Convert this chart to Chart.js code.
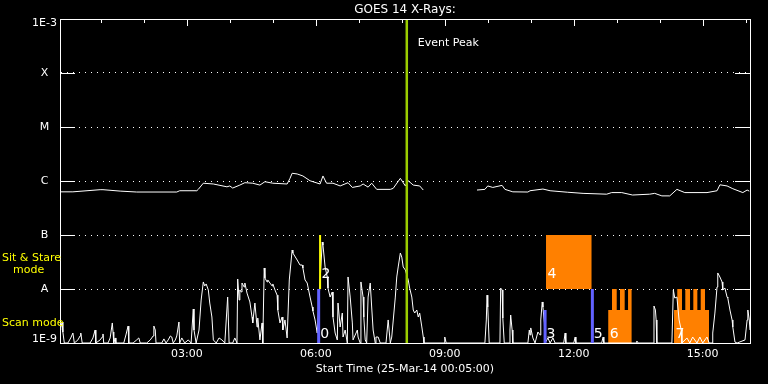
<!DOCTYPE html>
<html><head><meta charset="utf-8">
<style>html,body{margin:0;padding:0;background:#000;overflow:hidden}</style>
<script src="https://cdn.jsdelivr.net/npm/chart.js@4.4.1/dist/chart.umd.min.js"></script>
</head><body>
<canvas id="c" width="768" height="384"></canvas>
<script>
// ---- axis definitions ----
const yLevels = [1e-9, 1e-8, 1e-7, 1e-6, 1e-5, 1e-4, 1e-3];
const yLabels = ['1E-9', 'A', 'B', 'C', 'M', 'X', '1E-3'];
const xTickMinutes = [180, 360, 540, 720, 900];
const xMinMinute = 3, xMaxMinute = 966;

// ---- GOES 14 X-ray flux (minutes after 00:00, W/m^2) ----
const goesTime = [3,21,59,63,87,110,166,170,194,196,203,217,236,240,244,254,261,272,282,289,300,320,324,327,334,342,352,366,370,375,384,394,405,411,422,426,433,438,445,464,468,478,485,489,496,505,510,548,585,596,600,607,620,624,635,656,659,677,687,711,733,766,773,787,802,826,833,843,854,864,875,906,920,924,934,942,956,962,965];
const goesFlux = [6.3e-7,6.3e-7,6.9e-7,6.9e-7,6.5e-7,6.25e-7,6.25e-7,6.6e-7,6.6e-7,7.0e-7,
9.1e-7,8.8e-7,7.8e-7,8.1e-7,7.4e-7,8.4e-7,9.3e-7,9.1e-7,8.4e-7,9.7e-7,
9.1e-7,8.8e-7,1.12e-6,1.39e-6,1.35e-6,1.24e-6,1.01e-6,8.8e-7,1.24e-6,9.1e-7,
9.1e-7,8.1e-7,9.3e-7,7.6e-7,8.1e-7,8.8e-7,7.7e-7,9.1e-7,7.0e-7,7.0e-7,
7.3e-7,1.12e-6,8.1e-7,1.01e-6,8.4e-7,8.1e-7,6.8e-7,null,
6.8e-7,7.0e-7,8.1e-7,7.6e-7,8.3e-7,7.0e-7,6.3e-7,6.25e-7,6.6e-7,7.1e-7,
6.6e-7,6.2e-7,5.9e-7,5.7e-7,6.1e-7,6.1e-7,5.5e-7,5.7e-7,5.9e-7,5.3e-7,
5.3e-7,7.0e-7,6.1e-7,6.1e-7,6.6e-7,8.5e-7,8.1e-7,7.2e-7,6.1e-7,6.8e-7,6.5e-7];

// ---- lower (scan) trace ----
const scanTime = [3,4,6,7,9,14,18,21,23,28,31,32,34,45,49,52,53,59,62,63,64,70,73,76,77,78,80,81,87,92,95,98,99,105,110,113,115,124,129,133,134,136,137,145,148,151,154,157,159,161,164,166,169,170,173,177,182,186,189,190,193,197,200,203,205,207,210,212,215,217,221,225,229,233,237,239,244,247,250,251,253,254,256,257,260,261,264,268,271,272,275,278,279,282,285,286,288,289,292,293,296,299,300,303,306,307,310,313,314,317,320,323,327,328,334,338,341,342,345,348,352,355,356,359,362,369,370,373,376,377,380,383,384,387,390,391,394,397,398,401,404,405,408,411,412,418,419,422,423,426,427,429,431,433,436,438,440,443,444,447,450,458,461,464,466,471,473,475,478,480,482,485,489,491,494,496,498,501,503,505,508,510,511,539,540,542,596,598,599,600,602,617,618,620,621,623,630,631,632,634,635,656,658,659,660,663,666,670,673,674,676,677,679,680,684,687,691,694,706,708,709,720,722,723,759,761,762,807,808,810,831,832,834,835,836,857,859,861,864,867,870,871,878,882,886,892,896,900,906,909,913,914,917,920,921,924,927,928,931,934,935,938,941,942,945,948,959,962,963,965,966];
const scanFlux = [1.74e-9,1.9e-9,2.45e-9,1.6e-9,1e-9,1e-9,1.24e-9,1.53e-9,1e-9,1.14e-9,1.35e-9,1.53e-9,1e-9,1e-9,1.24e-9,1.74e-9,1e-9,1.14e-9,1.29e-9,1.47e-9,1e-9,
1e-9,1.24e-9,2.35e-9,1.6e-9,1e-9,1.24e-9,1e-9,1e-9,1e-9,1.41e-9,2.06e-9,1e-9,1e-9,1.14e-9,1.24e-9,1e-9,1e-9,1.14e-9,1.35e-9,2.06e-9,1.74e-9,1e-9,
1e-9,1.19e-9,1e-9,1.14e-9,1.35e-9,1.29e-9,1e-9,1.14e-9,1.35e-9,2.45e-9,1e-9,1.24e-9,1e-9,1.14e-9,1e-9,4.26e-9,1.74e-9,1e-9,
1.74e-9,6.25e-9,1.35e-8,1.14e-8,1.24e-8,9.6e-9,5.5e-9,3.03e-9,1.14e-9,1e-9,1.24e-9,1.14e-9,1e-9,7.1e-9,1e-9,1e-9,1.24e-9,1e-9,
1.53e-8,6.25e-9,9.6e-9,8.8e-9,1.29e-8,1.09e-8,1.29e-8,8.4e-9,5.75e-9,3.03e-9,2.35e-9,5.5e-9,1.98e-9,2.9e-9,1.14e-9,2.35e-9,1e-9,
2.45e-8,1.6e-8,1.35e-8,1.47e-8,1.29e-8,1.14e-8,1.24e-8,9.6e-9,7.7e-9,4.08e-9,2.35e-9,3.03e-9,1.74e-9,2.67e-9,1.24e-9,
1.47e-8,5.27e-8,4.64e-8,3.44e-8,2.78e-8,2.78e-8,2.45e-8,1.47e-8,1.29e-8,7.1e-9,4.64e-9,3.91e-9,2.67e-9,1.53e-9,
7.4e-8,6.5e-8,2.56e-8,1.67e-8,1.04e-8,7.1e-9,8.8e-9,3.03e-9,1.53e-9,1.14e-9,5.5e-9,1.98e-9,3.59e-9,1.29e-9,1.74e-9,1e-9,
1.67e-8,7.1e-9,2.35e-9,1.14e-9,1.74e-9,1.29e-9,1e-9,1.35e-8,7.1e-9,3.03e-9,1.14e-9,1e-9,7.1e-9,1.29e-8,4.64e-9,1.74e-9,1e-9,
1.29e-9,1.29e-9,1e-9,1e-9,2.67e-9,1e-9,1.29e-9,
7.1e-9,1.67e-8,2.56e-8,4.64e-8,3.9e-8,2.56e-8,2.25e-8,1.47e-8,1.04e-8,7.1e-9,4.08e-9,3.59e-9,4.08e-9,3.03e-9,3.59e-9,1.98e-9,1.29e-9,1e-9,
1e-9,1.29e-9,1e-9,1e-9,2.67e-9,7.7e-9,4.64e-9,1e-9,1e-9,1.04e-8,9.6e-9,2.9e-9,1e-9,1e-9,1.74e-9,3.3e-9,1.74e-9,1e-9,
1e-9,1.74e-9,1.41e-9,1.9e-9,1.24e-9,1e-9,1.6e-9,1.41e-9,2.67e-9,5.75e-9,4.64e-9,2.35e-9,1e-9,1.24e-9,1e-9,1.24e-9,1e-9,
1e-9,1.53e-9,1e-9,1e-9,1.29e-9,1e-9,1e-9,1.29e-9,1e-9,1e-9,1.09e-9,1e-9,1e-9,4.84e-9,4.08e-9,2.67e-9,1e-9,
1e-9,9.6e-9,6.8e-9,7.1e-9,2.67e-9,1.74e-9,1e-9,1.24e-9,1e-9,1.29e-9,1e-9,1.29e-9,1e-9,1.29e-9,1e-9,
1e-9,1.53e-9,3.59e-9,1.09e-8,1.98e-8,1.67e-8,1.35e-8,9.6e-9,1.04e-8,7.1e-9,6.8e-9,4.08e-9,2.67e-9,1.98e-9,1.04e-9,1e-9,
1.14e-9,2.67e-9,4.08e-9,2.67e-9,1.74e-9];

// ---- event markers ----
const eventPeakTime = 487;
const scanBarTimes = [364, 680, 746];
const scanBarTops = [1e-8, 4.08e-9, 1e-8];
const stareBarTime = 366;
const stareBarRange = [1e-8, 1e-7];
const block4Time = [681.3, 745.1];
const block4Range = [1e-8, 1e-7];
const block6Time = [768,773.4,773.4,780,780,784.6,784.6,791.1,791.1,795.8,795.8,801];
const block6Flux = [4.08e-9,4.08e-9,1e-8,1e-8,4.08e-9,4.08e-9,1e-8,1e-8,4.08e-9,4.08e-9,1e-8,1e-8];
const block7Time = [860,864.5,864.5,871.1,871.1,875.7,875.7,882.3,882.3,886.9,886.9,892.5,892.5,897.2,897.2,903.2,903.2,908.8];
const block7Flux = [4.08e-9,4.08e-9,1e-8,1e-8,4.08e-9,4.08e-9,1e-8,1e-8,4.08e-9,4.08e-9,1e-8,1e-8,4.08e-9,4.08e-9,1e-8,1e-8,4.08e-9,4.08e-9];
const markerLabels = ['0', '2', '3', '4', '5', '6', '7'];
const markerTimes = [364, 366, 680, 681.3, 746, 768, 860];
const markerLevels = [1e-9, 1e-8, 1e-9, 1e-8, 1e-9, 1e-9, 1e-9];

// ---- styles ----
const FONT = 'DejaVu Sans';
const WHITE = '#ffffff', ORANGE = '#ff8000', BLUE = '#6262ff', YELLOW = '#ffff00', GREEN = 'rgb(155,205,0)';

const pts = (xs, ys) => xs.map((t, i) => ({x: t, y: ys[i]}));
const fmt = v => String(Math.floor(v / 60)).padStart(2, '0') + ':' + String(v % 60).padStart(2, '0');

const lineDs = (data, color, width, extra) => Object.assign({
  data, borderColor: color, borderWidth: width, pointRadius: 0, tension: 0, fill: false, spanGaps: false
}, extra || {});

const datasets = [
  lineDs(pts([eventPeakTime, eventPeakTime], [yLevels[0], yLevels[6]]), GREEN, 2.5),
  lineDs(pts([stareBarTime, stareBarTime], stareBarRange), YELLOW, 2),
  ...scanBarTimes.map((t, i) => lineDs(pts([t, t], [yLevels[0], scanBarTops[i]]), BLUE, 3)),
  lineDs(pts(scanTime, scanFlux), WHITE, 1),
  lineDs(pts(goesTime, goesFlux), WHITE, 1),
  lineDs(pts(block4Time, [block4Range[1], block4Range[1]]), 'rgba(0,0,0,0)', 1, {fill: {value: block4Range[0]}, backgroundColor: ORANGE}),
  lineDs(pts(block6Time, block6Flux), 'rgba(0,0,0,0)', 1, {fill: {value: yLevels[0]}, backgroundColor: ORANGE}),
  lineDs(pts(block7Time, block7Flux), 'rgba(0,0,0,0)', 1, {fill: {value: yLevels[0]}, backgroundColor: ORANGE})
];

const overlay = {
  id: 'overlay',
  afterDatasetsDraw(chart) {
    const {ctx, chartArea: a, scales: {x, y}} = chart;
    ctx.save();
    ctx.strokeStyle = WHITE; ctx.lineWidth = 1; ctx.setLineDash([]);
    ctx.strokeRect(a.left + 0.5, a.top + 0.5, a.right - a.left, a.bottom - a.top);
    ctx.beginPath();
    yLevels.forEach(v => {
      const py = Math.round(y.getPixelForValue(v)) + 0.5;
      ctx.moveTo(a.left, py); ctx.lineTo(a.left + 15, py);
      ctx.moveTo(a.right - 15, py); ctx.lineTo(a.right + 1, py);
    });
    for (let m = 60; m < x.max; m += 60) {
      const px = Math.round(x.getPixelForValue(m)) + 0.5;
      const len = xTickMinutes.includes(m) ? 7 : 4;
      ctx.moveTo(px, a.top); ctx.lineTo(px, a.top + len);
    }
    ctx.stroke();

    // title
    ctx.fillStyle = WHITE;
    ctx.font = '12px "' + FONT + '"';
    ctx.textAlign = 'center'; ctx.textBaseline = 'middle';
    ctx.fillText('GOES 14 X-Rays:', (a.left + a.right) / 2, a.top / 2);

    // event peak label
    ctx.font = '11px "' + FONT + '"';
    ctx.textAlign = 'left';
    ctx.fillText('Event Peak', x.getPixelForValue(eventPeakTime) + 11, a.top + 24);

    // mode labels
    ctx.fillStyle = YELLOW;
    const yB = y.getPixelForValue(1e-7), y0 = y.getPixelForValue(1e-9);
    ctx.fillText('Sit & Stare', 2, yB + 23);
    ctx.fillText('mode', 13, yB + 35);
    ctx.fillText('Scan mode', 2, y0 - 20);

    // marker numbers
    ctx.fillStyle = WHITE;
    ctx.font = '14px "' + FONT + '"';
    ctx.textBaseline = 'alphabetic';
    markerLabels.forEach((s, i) => {
      const px = x.getPixelForValue(markerTimes[i]) + 1.5;
      const lv = markerLevels[i];
      const py = y.getPixelForValue(lv) - (lv === 1e-9 ? 5 : 11);
      ctx.fillText(s, px, py);
    });
    ctx.restore();
  }
};

Chart.defaults.font.family = FONT;
new Chart(document.getElementById('c'), {
  type: 'line',
  data: {datasets},
  plugins: [overlay],
  options: {
    responsive: false, animation: false, events: [],
    layout: {padding: {left: 0, right: 18, top: 19, bottom: 0}},
    plugins: {legend: {display: false}, tooltip: {enabled: false}, title: {display: false}},
    scales: {
      x: {
        type: 'linear', position: 'bottom', min: xMinMinute, max: xMaxMinute,
        afterFit(s) { s.height = 41; },
        afterBuildTicks(s) { s.ticks = xTickMinutes.map(v => ({value: v})); },
        ticks: {color: WHITE, font: {family: FONT, size: 11}, padding: 5, maxRotation: 0, autoSkip: false, callback: v => fmt(v)},
        grid: {display: false, drawTicks: false},
        border: {display: true, color: WHITE, width: 1},
        title: {display: true, text: 'Start Time (25-Mar-14 00:05:00)', color: WHITE, font: {family: FONT, size: 11}, padding: {top: 0, bottom: 8}}
      },
      y: {
        type: 'logarithmic', position: 'left', min: yLevels[0], max: yLevels[6],
        afterFit(s) { s.width = 60; },
        afterBuildTicks(s) { s.ticks = yLevels.map(v => ({value: v})); },
        ticks: {
          color: WHITE, padding: 3, crossAlign: 'center', autoSkip: false,
          font: c => ({family: FONT, size: 11, lineHeight: (c.index === 0 || c.index === yLevels.length - 1) ? '8px' : 1.2}),
          callback: (v, i) => i === 0 ? [yLabels[0], ''] : (i === yLevels.length - 1 ? ['', yLabels[i]] : yLabels[i])
        },
        grid: {color: WHITE, lineWidth: 1, drawTicks: false},
        border: {display: true, color: WHITE, width: 1, dash: [1, 5]}
      }
    }
  }
});
</script>
</body></html>
